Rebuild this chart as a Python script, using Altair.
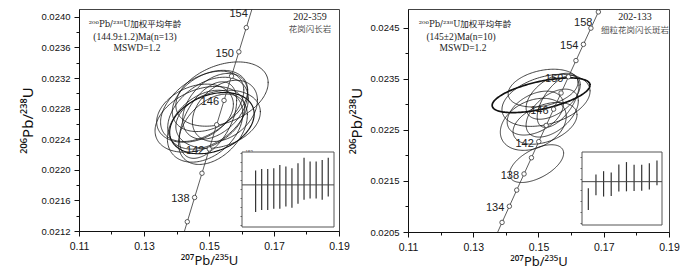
import altair as alt
import pandas as pd

# ---------------- data ----------------
# Concordia reference points (age in Ma, 207Pb/235U, 206Pb/238U)
AGES = [130, 132, 134, 136, 138, 140, 142, 144, 146, 148, 150, 152, 154, 156, 158, 160]
C_X = [0.13659, 0.13883, 0.14107, 0.14332, 0.14557, 0.14784, 0.15009, 0.15236,
       0.15463, 0.15692, 0.15919, 0.16148, 0.16377, 0.16607, 0.16835, 0.17066]
C_Y = [0.020371, 0.020688, 0.021004, 0.021321, 0.021638, 0.021955, 0.022272, 0.022589,
       0.022907, 0.023224, 0.023542, 0.023859, 0.024177, 0.024495, 0.024813, 0.025131]
LEFT_LABEL_AGES = [138, 142, 146, 150]
LEFT_TOP_LABEL = [154]
RIGHT_LABEL_AGES = [134, 138, 142, 146, 150, 154]
RIGHT_TOP_LABEL = [158]

# Error ellipses, sample 202-359 (centre, half extents, correlation)
L_CX = [0.1540, 0.1472, 0.1497, 0.1509, 0.1519, 0.1488, 0.1528, 0.1457, 0.1503, 0.1512, 0.1549, 0.1479, 0.1497]
L_CY = [0.02299, 0.02266, 0.02274, 0.02261, 0.02283, 0.02257, 0.02266, 0.02274, 0.02290, 0.02253, 0.02277, 0.02283, 0.02265]
L_SX = [0.0142, 0.0138, 0.0124, 0.0130, 0.0100, 0.0116, 0.0130, 0.0118, 0.0116, 0.0106, 0.0100, 0.0128, 0.0088]
L_SY = [0.00042, 0.00043, 0.00047, 0.00040, 0.00043, 0.00047, 0.00038, 0.00038, 0.00040, 0.00046, 0.00040, 0.00046, 0.00050]
L_RHO = [0.35, 0.35, 0.4, 0.3, 0.4, 0.35, 0.25, 0.3, 0.35, 0.4, 0.35, 0.45, 0.5]
L_BOLD = 3

# Error ellipses, sample 202-133
R_CX = [0.1508, 0.1523, 0.1514, 0.1545, 0.1484, 0.1520, 0.1542, 0.1494, 0.1560, 0.1490]
R_CY = [0.02318, 0.02308, 0.02332, 0.02316, 0.02261, 0.02263, 0.02283, 0.02184, 0.02306, 0.02283]
R_SX = [0.0150, 0.0135, 0.0107, 0.0083, 0.0101, 0.0098, 0.0080, 0.0083, 0.0064, 0.0086]
R_SY = [0.00034, 0.00051, 0.00037, 0.00045, 0.00051, 0.00041, 0.00047, 0.00037, 0.00051, 0.00043]
R_RHO = [0.58, 0.35, 0.3, 0.5, 0.3, 0.4, 0.5, 0.55, 0.6, 0.4]
R_BOLD = 0

# Weighted mean age insets (age ranges, Ma)
L_AGE_LO = [138.9, 139.3, 139.3, 139.6, 139.6, 140.1, 139.8, 140.7, 141.6, 141.9, 141.9, 141.6, 142.3]
L_AGE_HI = [148.1, 148.4, 148.4, 148.6, 149.3, 149.0, 148.6, 149.7, 150.9, 150.1, 150.1, 150.4, 150.9]
L_MEAN = 144.9
R_AGE_LO = [134.7, 140.1, 139.6, 139.8, 141.4, 141.5, 141.6, 141.7, 142.2, 143.7]
R_AGE_HI = [142.6, 147.6, 148.8, 148.3, 151.2, 152.1, 151.1, 151.1, 151.7, 152.7]
R_MEAN = 145.0

# Tick values
X_TICKS = [0.11, 0.12, 0.13, 0.14, 0.15, 0.16, 0.17, 0.18, 0.19]
L_Y_TICKS = [0.0212, 0.0214, 0.0216, 0.0218, 0.0220, 0.0222, 0.0224, 0.0226, 0.0228,
             0.0230, 0.0232, 0.0234, 0.0236, 0.0238, 0.0240]
R_Y_TICKS = [0.0205, 0.0210, 0.0215, 0.0220, 0.0225, 0.0230, 0.0235, 0.0240, 0.0245]
L_INSET_TICKS = [136, 138, 140, 142, 144, 146, 148, 150, 152]
R_INSET_TICKS = [130, 134, 138, 142, 146, 150, 154]

# Texts
L_NOTES = ["²⁰⁶Pb/²³⁸U加权平均年龄", "(144.9±1.2)Ma(n=13)", "MSWD=1.2"]
R_NOTES = ["²⁰⁶Pb/²³⁸U加权平均年龄", "(145±2)Ma(n=10)", "MSWD=1.2"]
L_SAMPLE = ["202-359", "花岗闪长岩"]
R_SAMPLE = ["202-133", "细粒花岗闪长斑岩"]

SANS = "Liberation Sans"
TITLE_FONT = "Noto Sans"
SERIF = "Liberation Serif, Noto Sans CJK SC"
SUP_SERIF = "DejaVu Serif, Noto Sans CJK SC"


def note(txt, px, py, size, color, font):
    return alt.Chart(pd.DataFrame({"k": [0]})).mark_text(
        text=txt, fontSize=size, color=color, font=font, align="center", baseline="middle"
    ).encode(x=alt.value(px), y=alt.value(py))


def panel(cx, cy, sx, sy, rho, bold, bold_w, ydom, yticks, ymajor, w, h, label_ages, top_label,
          notes, sample, note_pos, sample_pos,
          lo, hi, mean, idom, irange, vdom, vrange, iticks):
    xs = alt.Scale(domain=[0.11, 0.19], nice=False, zero=False)
    ys = alt.Scale(domain=ydom, nice=False, zero=False)
    xaxis = alt.Axis(values=X_TICKS, format=".2f", labelFlush=False,
                     labelExpr="round(datum.value*100) % 2 == 1 ? datum.label : ''",
                     tickSize={"condition": {"test": "round(datum.value*100) % 2 == 1", "value": 5}, "value": 3},
                     labelFontSize=10.5, labelPadding=5, titleFontSize=13, titlePadding=3,
                     titleFont=TITLE_FONT, title="²⁰⁷Pb/²³⁵U")
    yaxis = alt.Axis(values=yticks, format=".4f", labelFlush=False,
                     labelExpr=f"{ymajor} ? datum.label : ''",
                     tickSize={"condition": {"test": ymajor, "value": 5}, "value": 3},
                     labelFontSize=9.5, labelPadding=4, titleFontSize=15, titlePadding=5,
                     titleFont=TITLE_FONT, title="²⁰⁶Pb/²³⁸U")

    def X(f="x"):
        return alt.X(f"{f}:Q", scale=xs, axis=xaxis)

    def Y(f="y"):
        return alt.Y(f"{f}:Q", scale=ys, axis=yaxis)

    edf = pd.DataFrame({"id": list(range(len(cx))), "cx": cx, "cy": cy, "sx": sx, "sy": sy,
                        "rho": rho, "w": [bold_w if i == bold else 0.8 for i in range(len(cx))]})
    ell = alt.Chart(edf).transform_calculate(
        t="sequence(0, 6.33, 0.04)"
    ).transform_flatten(["t"]).transform_calculate(
        x="datum.cx + datum.sx*cos(datum.t)",
        y="datum.cy + datum.sy*(datum.rho*cos(datum.t) + sqrt(1-datum.rho*datum.rho)*sin(datum.t))",
    ).mark_line(color="#111", clip=True).encode(
        x=X(), y=Y(), detail="id:N", order="t:Q",
        strokeWidth=alt.StrokeWidth("w:Q", scale=None, legend=None))

    cdf = pd.DataFrame({"age": AGES, "x": C_X, "y": C_Y})
    line = alt.Chart(cdf).mark_line(color="#333", strokeWidth=0.8, clip=True).encode(
        x=X(), y=Y(), order="age:Q")
    pts = alt.Chart(cdf).mark_point(shape="circle", size=20, filled=True, fill="white",
                                    stroke="#333", strokeWidth=0.8, opacity=1, clip=True).encode(x=X(), y=Y())
    labs = alt.Chart(cdf[cdf["age"].isin(label_ages)]).mark_text(
        align="right", baseline="middle", dx=-5, dy=2, fontSize=11,
        font=SANS, color="#222", clip=True).encode(x=X(), y=Y(), text="age:N")
    tlab = alt.Chart(cdf[cdf["age"].isin(top_label)]).mark_text(
        align="right", baseline="middle", dx=-6, dy=11, fontSize=11,
        font=SANS, color="#222", clip=True).encode(x=X(), y=Y(), text="age:N")

    texts = [note(notes[0], note_pos[0][0], note_pos[0][1], 8.5, "#222", SUP_SERIF)]
    for t, (px, py) in zip(notes[1:], note_pos[1:]):
        texts.append(note(t, px, py, 9.5, "#222", SERIF))
    texts.append(note(sample[0], sample_pos[0][0], sample_pos[0][1], 10, "#222", SERIF))
    texts.append(note(sample[1], sample_pos[1][0], sample_pos[1][1], 8.5, "#555", SERIF))

    main = alt.layer(ell, line, pts, labs, tlab, *texts)

    isc = alt.Scale(domain=idom, range=irange, nice=False, zero=False)
    vsc = alt.Scale(domain=vdom, range=vrange, nice=False, zero=False)
    vaxis = alt.Axis(orient="left", offset=-irange[0], values=iticks, tickSize=2, labelPadding=-5,
                     labelAlign="left", labelFontSize=4.5, labelColor="#555", tickColor="#666",
                     domain=False, title=None, grid=False, labelFont=SANS, labelFlush=False)

    def IX(f="i"):
        return alt.X(f"{f}:Q", scale=isc, axis=None)

    def IY(f="v"):
        return alt.Y(f"{f}:Q", scale=vsc, axis=vaxis)

    fdf = pd.DataFrame({"i": [idom[0]], "i2": [idom[1]], "v": [vdom[0]], "v2": [vdom[1]], "m": [mean]})
    frame = alt.Chart(fdf).mark_rect(fill="white", stroke="#555", strokeWidth=1).encode(
        x=IX(), x2="i2:Q", y=IY(), y2="v2:Q")
    bdf = pd.DataFrame({"i": list(range(1, len(lo) + 1)), "v": lo, "v2": hi})
    bars = alt.Chart(bdf).mark_rule(color="#333", strokeWidth=1.2).encode(x=IX(), y=IY(), y2="v2:Q")
    mline = alt.Chart(fdf).mark_rule(color="#444", strokeWidth=1).encode(x=IX(), x2="i2:Q", y=IY("m"))
    inset = alt.layer(frame, bars, mline)

    return alt.layer(main, inset).resolve_scale(x="independent", y="independent").properties(
        width=w, height=h)


left = panel(L_CX, L_CY, L_SX, L_SY, L_RHO, L_BOLD, 1.15,
             [0.0212, 0.024102], L_Y_TICKS, "round(datum.value*10000) % 4 == 0",
             260, 222, LEFT_LABEL_AGES, LEFT_TOP_LABEL,
             L_NOTES, L_SAMPLE, [(56, 15), (56, 28), (58, 39)], [(231, 8), (231, 20)],
             L_AGE_LO, L_AGE_HI, L_MEAN, [-1.25, 13.95], [163, 255], [135.55, 152.2], [218, 143],
             L_INSET_TICKS)

right = panel(R_CX, R_CY, R_SX, R_SY, R_RHO, R_BOLD, 1.7,
              [0.0205, 0.02487], R_Y_TICKS, "round(datum.value*10000) % 10 == 5",
              261, 223, RIGHT_LABEL_AGES, RIGHT_TOP_LABEL,
              R_NOTES, R_SAMPLE, [(57, 15), (53, 28), (55, 39)], [(227, 8), (227, 21)],
              R_AGE_LO, R_AGE_HI, R_MEAN, [0.17, 10.66], [174, 254], [129.28, 155.76], [216, 143],
              R_INSET_TICKS)

chart = alt.hconcat(left, right, spacing=69, bounds="flush").properties(
    padding={"left": 12, "top": 0, "right": 0, "bottom": 0}
).configure_view(stroke="#444", strokeWidth=1).configure_axis(
    grid=False, domainColor="#111", tickColor="#111", labelColor="#111", titleColor="#111",
    labelFont=SANS, titleFont=TITLE_FONT, titleFontWeight="normal"
)

chart.save("out.html", embed_options={"renderer": "svg", "actions": False})
